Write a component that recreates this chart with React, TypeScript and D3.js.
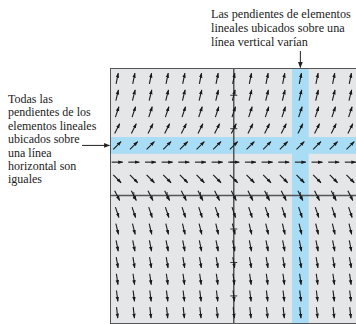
import React, { useRef, useEffect } from 'react';
import { select, scaleLinear } from 'd3';

// grid columns and rows of the slope field
const columns = [-7, -6, -5, -4, -3, -2, -1, 0, 1, 2, 3, 4, 5, 6, 7];
const rows = [-7, -6, -5, -4, -3, -2, -1, 0, 1, 2, 3, 4, 5, 6, 7];
// slope (same along a horizontal line)
const rowSlopes = [-9, -8, -7, -6, -5, -4, -3, -2, -1, 0, 1, 2, 3, 4, 5];
const axisTicks = [-6, -4, -2, 2, 4, 6];
const highlightRow = 3;
const highlightColumn = 4;

const topNote = ['Las pendientes de elementos', 'lineales ubicados sobre una', 'línea vertical varían'];
const leftNote = ['Todas las', 'pendientes de los', 'elementos lineales', 'ubicados sobre', 'una línea', 'horizontal son', 'iguales'];

export default function App() {
  const svgRef = useRef(null);

  useEffect(() => {
    const svg = select(svgRef.current);
    svg.selectAll('*').remove();

    const x = scaleLinear().domain([-7.4, 7.4]).range([110.5, 357]);
    const y = scaleLinear().domain([-7.65, 7.6]).range([323.5, 68.5]);

    const defs = svg.append('defs');
    defs.append('marker')
      .attr('id', 'head')
      .attr('viewBox', '0 0 10 10')
      .attr('refX', 9).attr('refY', 5)
      .attr('markerWidth', 5).attr('markerHeight', 5)
      .attr('markerUnits', 'userSpaceOnUse')
      .attr('orient', 'auto')
      .append('path').attr('d', 'M0,1.5L10,5L0,8.5z').attr('fill', '#1a1a1a');
    defs.append('marker')
      .attr('id', 'bighead')
      .attr('viewBox', '0 0 10 10')
      .attr('refX', 9).attr('refY', 5)
      .attr('markerWidth', 6).attr('markerHeight', 6)
      .attr('markerUnits', 'userSpaceOnUse')
      .attr('orient', 'auto')
      .append('path').attr('d', 'M0,1L10,5L0,9z').attr('fill', '#222');

    const [x0, x1] = x.range();
    const [y0, y1] = y.range();

    svg.append('rect')
      .attr('x', x0).attr('y', y1)
      .attr('width', x1 - x0).attr('height', y0 - y1)
      .attr('fill', '#e5e6e8');

    // highlighted bands
    svg.append('rect')
      .attr('x', x0).attr('y', y(highlightRow + 0.5))
      .attr('width', x1 - x0).attr('height', y(highlightRow - 0.5) - y(highlightRow + 0.5))
      .attr('fill', '#a9ddf5');
    svg.append('rect')
      .attr('x', x(highlightColumn - 0.5)).attr('y', y1)
      .attr('width', x(highlightColumn + 0.5) - x(highlightColumn - 0.5)).attr('height', y0 - y1)
      .attr('fill', '#a9ddf5');

    // axes
    svg.append('line')
      .attr('x1', x0).attr('x2', x1).attr('y1', y(0)).attr('y2', y(0))
      .attr('stroke', '#555').attr('stroke-width', 1.5);
    svg.append('line')
      .attr('x1', x(0)).attr('x2', x(0)).attr('y1', y0).attr('y2', y1)
      .attr('stroke', '#555').attr('stroke-width', 1.5);
    svg.selectAll('.ytick').data(axisTicks).join('line')
      .attr('class', 'ytick')
      .attr('x1', x(0) - 3.5).attr('x2', x(0) + 3.5)
      .attr('y1', d => y(d)).attr('y2', d => y(d))
      .attr('stroke', '#333').attr('stroke-width', 1);
    svg.selectAll('.xtick').data(axisTicks).join('line')
      .attr('class', 'xtick')
      .attr('y1', y(0) - 3.5).attr('y2', y(0) + 3.5)
      .attr('x1', d => x(d)).attr('x2', d => x(d))
      .attr('stroke', '#333').attr('stroke-width', 1);

    // slope elements
    const len = 11;
    const cells = rows.flatMap((r, i) => columns.map(c => ({ c, r, m: rowSlopes[i] })));
    svg.selectAll('.seg').data(cells).join('line')
      .attr('class', 'seg')
      .each(function (d) {
        const a = Math.atan(d.m);
        const dx = Math.cos(a) * len / 2;
        const dy = Math.sin(a) * len / 2;
        select(this)
          .attr('x1', x(d.c) - dx).attr('y1', y(d.r) + dy)
          .attr('x2', x(d.c) + dx).attr('y2', y(d.r) - dy);
      })
      .attr('stroke', '#1a1a1a').attr('stroke-width', 1.1)
      .attr('marker-end', 'url(#head)');

    // border
    svg.append('rect')
      .attr('x', x0).attr('y', y1)
      .attr('width', x1 - x0).attr('height', y0 - y1)
      .attr('fill', 'none').attr('stroke', '#555').attr('stroke-width', 1);

    // annotations
    const font = '"Liberation Serif", "Times New Roman", serif';
    svg.append('text')
      .attr('font-family', font).attr('font-size', 12.2).attr('fill', '#222')
      .selectAll('tspan').data(topNote).join('tspan')
      .attr('x', 211).attr('y', (d, i) => 18 + i * 14)
      .text(d => d);
    svg.append('text')
      .attr('font-family', font).attr('font-size', 12).attr('fill', '#222')
      .selectAll('tspan').data(leftNote).join('tspan')
      .attr('x', 8).attr('y', (d, i) => 103 + i * 13.4)
      .text(d => d);

    svg.append('line')
      .attr('x1', x(highlightColumn)).attr('x2', x(highlightColumn))
      .attr('y1', 51).attr('y2', y1 - 1)
      .attr('stroke', '#222').attr('stroke-width', 1)
      .attr('marker-end', 'url(#bighead)');
    svg.append('line')
      .attr('x1', 82).attr('x2', x0 - 1)
      .attr('y1', y(highlightRow)).attr('y2', y(highlightRow))
      .attr('stroke', '#222').attr('stroke-width', 1)
      .attr('marker-end', 'url(#bighead)');
  }, []);

  return (
    <svg ref={svgRef} width={356} height={324}
      style={{ position: 'absolute', left: 0, top: 0, background: '#fff' }} />
  );
}
